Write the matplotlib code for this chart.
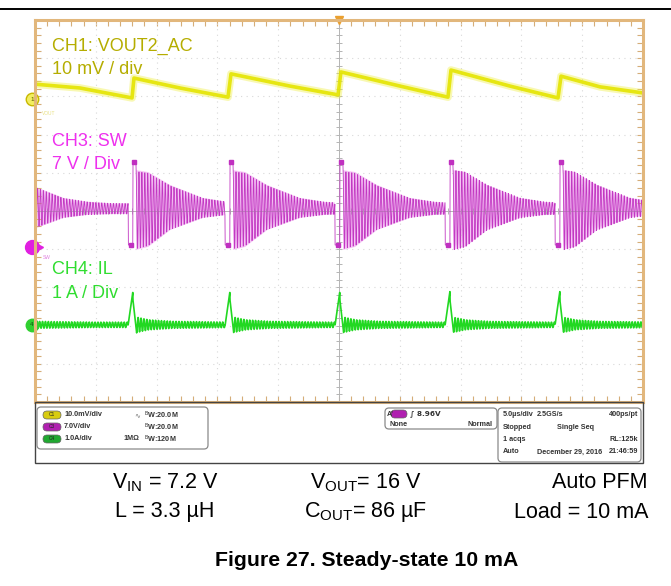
import numpy as np
import matplotlib
matplotlib.use("Agg")
import matplotlib.pyplot as plt
from matplotlib import font_manager
from matplotlib.patches import FancyBboxPatch, Rectangle
from matplotlib.lines import Line2D

# ---- values (time in us, amplitude in divisions) ----
sw_edges = [-3.4, 8.06, 16.04, 25.08, 34.13, 43.17]   # SW rising edges
sw_high, sw_low = 1.28, -0.89
sw_low_width, sw_high_width = 0.4, 0.25
ring_age = [0.0, 1.0, 2.8, 5.5, 7.5, 9.5]
ring_hi = [1.07, 1.02, 0.68, 0.34, 0.24, 0.20]
ring_lo = [-1.02, -0.94, -0.50, -0.18, -0.10, -0.08]
ring_period = 0.24

vout_t = [0.0, 3.70, 7.98, 8.14, 11.92, 15.87, 16.12, 20.97, 24.92, 25.16,
          30.02, 33.96, 34.21, 39.06, 43.01, 43.26, 46.46, 50.0]
vout_v = [3.32, 3.22, 2.96, 3.48, 3.22, 2.98, 3.59, 3.27, 3.04, 3.64,
          3.27, 2.98, 3.69, 3.27, 2.96, 3.53, 3.25, 3.09]

il_base, il_peak, il_under = -2.98, -2.20, -3.19
il_ring_age = [0.0, 1.0, 3.0, 8.0]
il_ring_amp = [0.20, 0.13, 0.09, 0.07]

ch_labels = [("CH1: VOUT2_AC", "10 mV / div", "#b5ad00", 46),
             ("CH3: SW", "7 V / Div", "#ee30ee", 141),
             ("CH4: IL", "1 A / Div", "#30dd30", 270)]
ch_rows = [("C1", "#d8cc10", "10.0mV/div", "", "20.0M"),
           ("C3", "#b020b0", "7.0V/div", "", "20.0M"),
           ("C4", "#20a830", "1.0A/div", "1M\u03a9", "120M")]
acq_rows = [("5.0\u00b5s/div", "2.5GS/s", "400ps/pt"),
            ("Stopped", "Single Seq", ""),
            ("1 acqs", "", "RL:125k"),
            ("Auto", "December 29, 2016", "21:46:59")]
cond_row1 = ["V$_{\\rm IN}$ = 7.2 V", "V$_{\\rm OUT}$= 16 V", "Auto PFM"]
cond_row2 = ["L = 3.3 \u00b5H", "C$_{\\rm OUT}$= 86 \u00b5F", "Load = 10 mA"]
title = "Figure 27. Steady-state 10 mA"

W, H = 671, 586
names = {f.name for f in font_manager.fontManager.ttflist}
if "Liberation Sans Narrow" in names:
    cap_font, row_size, title_size = "Liberation Sans Narrow", 18.5, 18.3
else:
    cap_font, row_size, title_size = "Liberation Sans", 15.5, 15.3
plt.rcParams["font.family"] = ["Liberation Sans", "DejaVu Sans"]
plt.rcParams["mathtext.fontset"] = "custom"
plt.rcParams["mathtext.rm"] = cap_font


def fx(x):
    return x / W


def fy(y):
    return 1 - y / H


# ---- build the traces ----
t = np.arange(0, 50.0001, 0.02)
edges = np.array(sw_edges)
sw = np.empty_like(t)
hi_env = np.full_like(t, np.nan)
lo_env = np.full_like(t, np.nan)
il = np.empty_like(t)
for i, ti in enumerate(t):
    k = np.searchsorted(edges, ti, side="right") - 1
    e = edges[k]
    nxt = edges[k + 1] if k + 1 < len(edges) else np.inf
    age = ti - e
    if nxt - ti <= sw_low_width:
        sw[i] = sw_low
    elif age < sw_high_width:
        sw[i] = sw_high
    else:
        a = age - sw_high_width
        hi = np.interp(a, ring_age, ring_hi)
        lo = np.interp(a, ring_age, ring_lo)
        sw[i] = (hi + lo) / 2 + (hi - lo) / 2 * np.cos(2 * np.pi * a / ring_period)
        hi_env[i], lo_env[i] = hi, lo

    # inductor current: spike just before each SW edge
    g_next = nxt - 0.05
    g = e - 0.05
    if g_next - ti <= 0.35:
        il[i] = il_base + (il_peak - il_base) * (1 - (g_next - ti) / 0.35)
    elif 0 <= ti - g < 0.35:
        il[i] = il_peak + (il_under - il_peak) * (ti - g) / 0.35
    else:
        a = max(ti - g - 0.35, 0)
        amp = np.interp(a, il_ring_age, il_ring_amp)
        il[i] = il_base - amp * np.cos(2 * np.pi * a / ring_period)

fig = plt.figure(figsize=(W / 100, H / 100), dpi=100)
fig.add_artist(Line2D([0, 1], [fy(9), fy(9)], color="black", lw=1.4))

# status panel
fig.add_artist(Rectangle((35, H - 463), 608, 61, transform=None,
                         fill=False, ec="#444444", lw=1))


def box(x0, y0, x1, y1, r=4, fc="none", ec="#8a8a8a", lw=0.9):
    fig.add_artist(FancyBboxPatch((x0, H - y1), x1 - x0, y1 - y0, transform=None,
                                  boxstyle=f"round,pad=0,rounding_size={r}",
                                  fc=fc, ec=ec, lw=lw))


box(37, 407, 208, 449)
box(385, 408, 497, 429)
box(498, 408, 641, 462)
small = dict(fontsize=5.2, fontweight="bold", color="#333333", va="center")
for j, (name, col, scale, imp, bw) in enumerate(ch_rows):
    y = 415 + 12 * j
    box(43, y - 4, 61, y + 4, r=4, fc=col, ec="#666666", lw=0.5)
    fig.text(fx(52), fy(y), name, fontsize=3.5, color="#222222", ha="center", va="center")
    fig.text(fx(64), fy(y), scale, **small)
    if imp:
        fig.text(fx(123), fy(y), imp, **small)
    fig.text(fx(144), fy(y), "$^{\\rm B}$W:" + bw, **small)
fig.text(fx(134), fy(415), "\u223f", fontsize=5, color="#777777", va="center",
         family="DejaVu Sans")
fig.text(fx(387), fy(414), "A'", **small)
box(391, 410, 407, 418, r=4, fc="#b020b0", ec="#666666", lw=0.5)
fig.text(fx(410), fy(414), "\u222b 8.96V", family="DejaVu Sans", fontsize=5.2,
         fontweight="bold", color="#333333", va="center")
fig.text(fx(389), fy(424), "None", **small)
fig.text(fx(493), fy(424), "Normal", ha="right", **small)
for j, (a, b, c) in enumerate(acq_rows):
    y = 415 + 12.3 * j
    fig.text(fx(503), fy(y), a, **small)
    if b:
        fig.text(fx(537 if j != 1 else 557), fy(y), b, **small)
    if c:
        fig.text(fx(638), fy(y), c, ha="right", **small)

# ---- scope screen ----
ax = fig.add_axes([fx(35), fy(402), 608 / W, 382 / H])
ax.set_xlim(0, 50)
ax.set_ylim(-5, 5)
ax.set_facecolor("white")
for s in ax.spines.values():
    s.set_color("#e2b77c")
    s.set_linewidth(2.2)
ax.set_xticks(np.arange(0, 50.1, 1))
ax.set_yticks(np.arange(-5, 5.01, 0.2))
ax.tick_params(direction="in", length=4, width=0.8, color="#d5ad78",
               top=True, right=True, labelbottom=False, labelleft=False)
for v in range(-4, 5):
    if v:
        ax.axhline(v, color="#d8d8d8", lw=0.8, ls=(0, (1, 4)))
for x in range(5, 50, 5):
    if x != 25:
        ax.axvline(x, color="#d8d8d8", lw=0.8, ls=(0, (1, 4)))
ax.axvline(25, color="#b4b4b4", lw=0.7)
ax.axhline(0, color="#b4b4b4", lw=0.7)
ax.plot(np.full(51, 25), np.linspace(-5, 5, 51), "_", color="#b4b4b4", ms=5, mew=0.7)
ax.plot(np.arange(0, 50.1, 1), np.zeros(51), "|", color="#b4b4b4", ms=5, mew=0.7)

ax.plot(vout_t, vout_v, color="#efef40", lw=5.5, alpha=0.4, solid_capstyle="butt")
ax.plot(vout_t, vout_v, color="#e4e400", lw=2.6, alpha=0.9)

ax.fill_between(t, lo_env, hi_env, color="#f2b0f2", alpha=0.75, lw=0)
ax.plot(t, sw, color="#c238c2", lw=0.6)
ax.plot(edges[1:] + 0.1, np.full(len(edges) - 1, sw_high), "s", color="#c030c0", ms=3)
ax.plot(edges[1:] - 0.2, np.full(len(edges) - 1, sw_low), "s", color="#c030c0", ms=3)

ax.plot(t, il, color="#22d822", lw=1.2)

# channel ground markers and trigger position
ax.plot(-0.25, 2.93, "o", ms=9, mfc="#f2ee60", mec="#c8b800", clip_on=False)
ax.text(-0.25, 2.93, "1", fontsize=4.5, ha="center", va="center", color="#555500")
ax.plot(-0.25, -0.94, "o", ms=10, color="#e020e0", clip_on=False)
ax.plot(0.45, -0.94, ">", ms=4, color="#e020e0", clip_on=False)
ax.plot(-0.25, -2.98, "o", ms=9, color="#30d030", clip_on=False)
ax.text(-0.25, -2.98, "4", fontsize=4.5, ha="center", va="center", color="#105010")
ax.plot(25, 5.0, "v", ms=6, color="#eaa030", clip_on=False)
ax.text(0.6, -1.23, "SW", fontsize=3.5, color="#e080e0", va="center")
ax.text(0.6, 2.55, "VOUT", fontsize=3.5, color="#e8e080", va="center")

for head, scale, col, y in ch_labels:
    fig.text(fx(52), fy(y), head, fontsize=13, color=col, va="center")
    fig.text(fx(52), fy(y + 23.5), scale, fontsize=13, color=col, va="center")

# ---- test conditions and caption ----
for row, y in ((cond_row1, 483), (cond_row2, 512)):
    fig.text(fx(165), fy(y), row[0], family=cap_font, fontsize=row_size, ha="center", va="center")
    fig.text(fx(366), fy(y), row[1], family=cap_font, fontsize=row_size, ha="center", va="center")
    fig.text(fx(648), fy(y), row[2], family=cap_font, fontsize=row_size, ha="right", va="center")
fig.text(fx(367), fy(561), title, family=cap_font, fontsize=title_size,
         fontweight="bold", ha="center", va="center")

fig.savefig("out.png", dpi=100)
